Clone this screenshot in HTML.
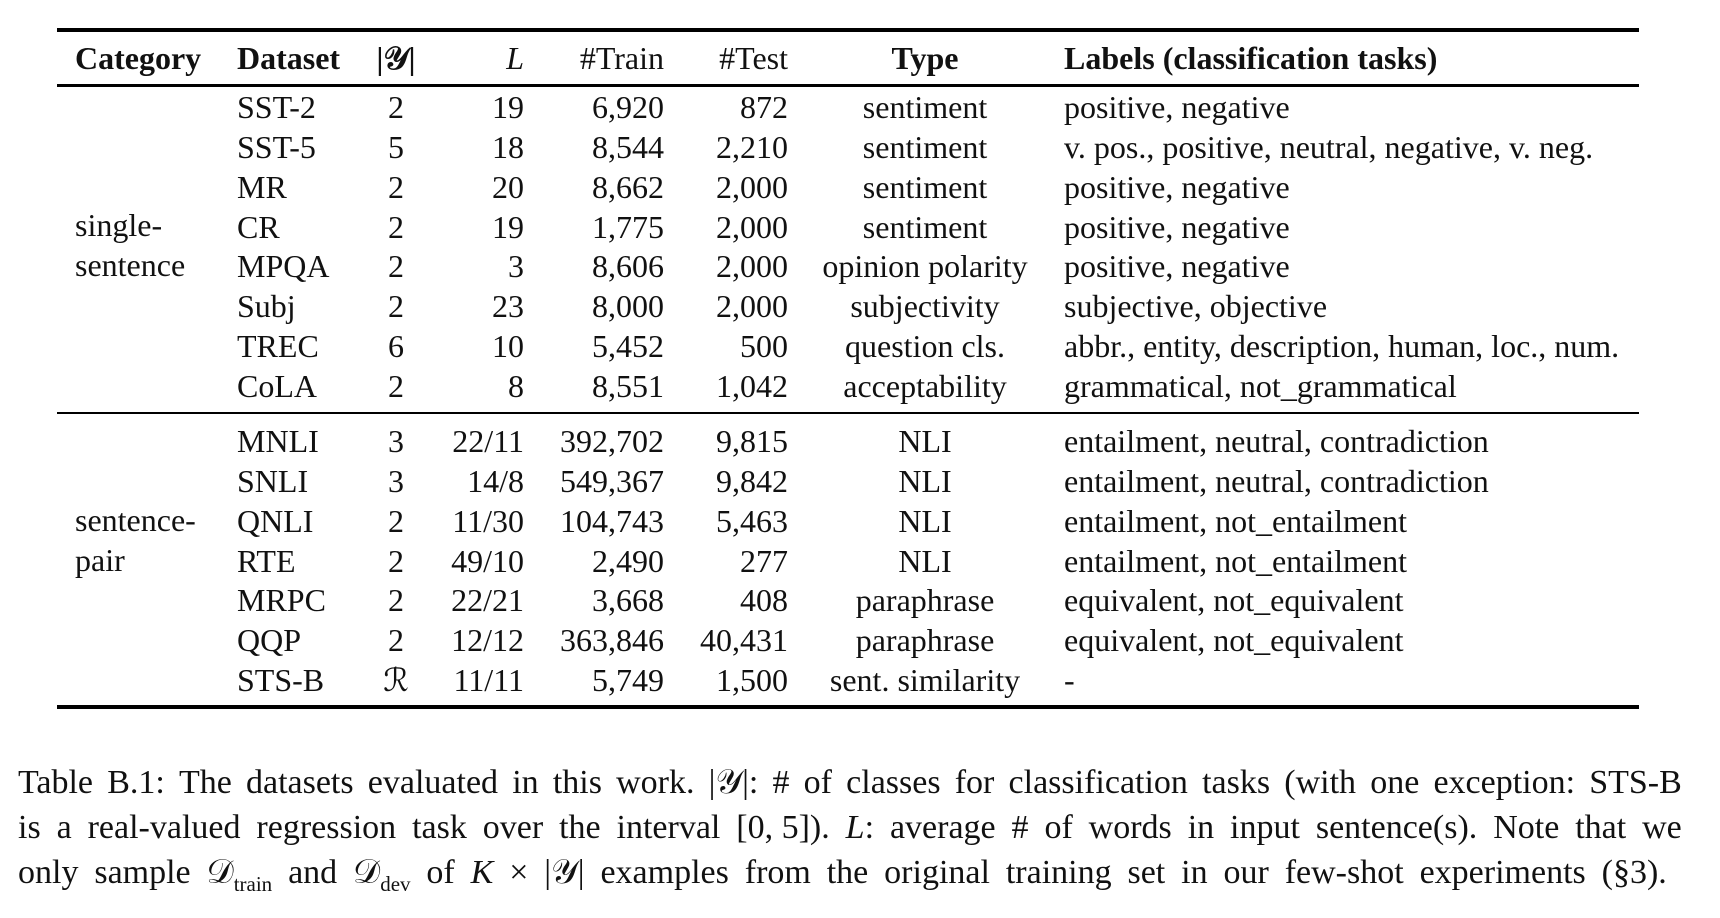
<!DOCTYPE html>
<html><head><meta charset="utf-8"><style>
body{margin:0;width:1720px;height:918px;background:#fff;position:relative;overflow:hidden;font-family:"Liberation Serif",serif;color:#111}
.r{position:absolute;left:57px;width:1582px;background:#000}
.c{position:absolute;font-size:32px;line-height:40px;white-space:nowrap}
.b{font-weight:bold}
.ctr{transform:translateX(-50%)}
.rt{transform:translateX(-100%)}
.cap{position:absolute;left:18px;width:1664px;font-size:34px;line-height:45px;display:flex;justify-content:space-between;column-gap:5px;white-space:nowrap}
i{font-style:italic}
sub{font-size:21px}
</style></head><body>
<div class="r" style="top:28px;height:4px"></div>
<div class="r" style="top:84px;height:3px"></div>
<div class="r" style="top:412px;height:2px"></div>
<div class="r" style="top:705px;height:4px"></div>

<div class="c b" style="top:38px;left:75px">Category</div>
<div class="c b" style="top:38px;left:237px">Dataset</div>
<div class="c b ctr" style="top:38px;left:396px">|𝒴|</div>
<div class="c rt" style="top:38px;left:524px"><i>L</i></div>
<div class="c rt" style="top:38px;left:664px">#Train</div>
<div class="c rt" style="top:38px;left:788px">#Test</div>
<div class="c b ctr" style="top:38px;left:925px">Type</div>
<div class="c b" style="top:38px;left:1064px">Labels (classification tasks)</div>

<div id="rows"></div>
<script>
var rows=[
["SST-2","2","19","6,920","872","sentiment","positive, negative"],
["SST-5","5","18","8,544","2,210","sentiment","v. pos., positive, neutral, negative, v. neg."],
["MR","2","20","8,662","2,000","sentiment","positive, negative"],
["CR","2","19","1,775","2,000","sentiment","positive, negative"],
["MPQA","2","3","8,606","2,000","opinion polarity","positive, negative"],
["Subj","2","23","8,000","2,000","subjectivity","subjective, objective"],
["TREC","6","10","5,452","500","question cls.","abbr., entity, description, human, loc., num."],
["CoLA","2","8","8,551","1,042","acceptability","grammatical, not_grammatical"],
["MNLI","3","22/11","392,702","9,815","NLI","entailment, neutral, contradiction"],
["SNLI","3","14/8","549,367","9,842","NLI","entailment, neutral, contradiction"],
["QNLI","2","11/30","104,743","5,463","NLI","entailment, not_entailment"],
["RTE","2","49/10","2,490","277","NLI","entailment, not_entailment"],
["MRPC","2","22/21","3,668","408","paraphrase","equivalent, not_equivalent"],
["QQP","2","12/12","363,846","40,431","paraphrase","equivalent, not_equivalent"],
["STS-B","ℛ","11/11","5,749","1,500","sent. similarity","-"]];
var h="";
rows.forEach(function(r,i){
 var y=(i<8?107+i*39.85:441+(i-8)*39.85)-20;
 h+='<div class="c" style="top:'+y+'px;left:237px">'+r[0]+'</div>';
 h+='<div class="c ctr" style="top:'+y+'px;left:396px">'+r[1]+'</div>';
 h+='<div class="c rt" style="top:'+y+'px;left:524px">'+r[2]+'</div>';
 h+='<div class="c rt" style="top:'+y+'px;left:664px">'+r[3]+'</div>';
 h+='<div class="c rt" style="top:'+y+'px;left:788px">'+r[4]+'</div>';
 h+='<div class="c ctr" style="top:'+y+'px;left:925px">'+r[5]+'</div>';
 h+='<div class="c" style="top:'+y+'px;left:1064px">'+r[6]+'</div>';
});
document.getElementById("rows").innerHTML=h;
</script>
<div class="c" style="top:205px;left:75px">single-</div>
<div class="c" style="top:245px;left:75px">sentence</div>
<div class="c" style="top:500px;left:75px">sentence-</div>
<div class="c" style="top:540px;left:75px">pair</div>

<div class="cap" style="top:760px"><span>Table</span><span>B.1:</span><span>The</span><span>datasets</span><span>evaluated</span><span>in</span><span>this</span><span>work.</span><span>|𝒴|:</span><span>#</span><span>of</span><span>classes</span><span>for</span><span>classification</span><span>tasks</span><span>(with</span><span>one</span><span>exception:</span><span>STS-B</span></div>
<div class="cap" style="top:805px"><span>is</span><span>a</span><span>real-valued</span><span>regression</span><span>task</span><span>over</span><span>the</span><span>interval</span><span>[0,&nbsp;5]).</span><span><i>L</i>:</span><span>average</span><span>#</span><span>of</span><span>words</span><span>in</span><span>input</span><span>sentence(s).</span><span>Note</span><span>that</span><span>we</span></div>
<div class="cap" style="top:850px;width:1649px"><span>only</span><span>sample</span><span>𝒟<sub>train</sub></span><span>and</span><span>𝒟<sub>dev</sub></span><span>of</span><span><i>K</i></span><span>×</span><span>|𝒴|</span><span>examples</span><span>from</span><span>the</span><span>original</span><span>training</span><span>set</span><span>in</span><span>our</span><span>few-shot</span><span>experiments</span><span>(§3).</span></div>
</body></html>
